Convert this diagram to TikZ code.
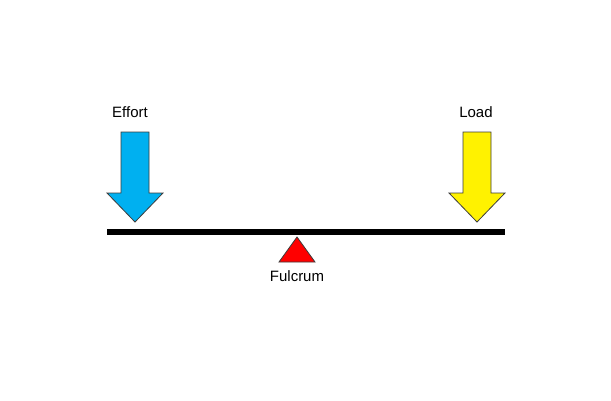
\documentclass[tikz,border=0pt]{standalone}
\usepackage{fontspec}
\setmainfont{Liberation Sans}
\definecolor{effortblue}{RGB}{0,176,240}
\definecolor{outl}{RGB}{60,60,60}
\begin{document}
\begin{tikzpicture}[x=1pt,y=-1pt,
  arrowshape/.style={draw=outl,line width=0.8pt,line join=miter},
  lbl/.style={inner sep=0pt,font=\fontsize{15}{18}\selectfont}]
\useasboundingbox (0,0) rectangle (611,400);
% beam
\draw[line width=6pt] (107,232) coordinate (bl) -- (505,232) coordinate (br);
% effort arrow
\draw[arrowshape,fill=effortblue] (121,132) -- (149,132) -- (149,193) -- (163,193) -- (135,222) coordinate (et) -- (107,193) -- (121,193) -- cycle;
% load arrow
\draw[arrowshape,fill=yellow] (463,132) -- (491,132) -- (491,193) -- (505,193) -- (477,222) coordinate (lt) -- (449,193) -- (463,193) -- cycle;
% fulcrum
\draw[arrowshape,fill=red] (297,237) coordinate (apex) -- (315,262) -- (279,262) -- cycle;
\node[lbl] (effort) at (130,112) {Effort};
\node[lbl] (load) at (476,112) {Load};
\node[lbl] (fulcrum) at (297,276) {Fulcrum};
\end{tikzpicture}
\end{document}
